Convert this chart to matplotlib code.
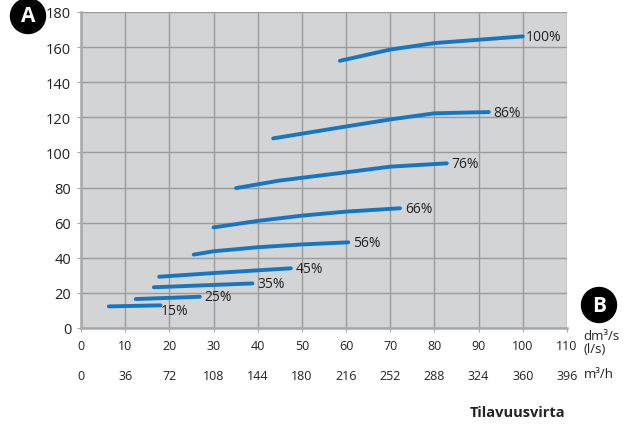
import matplotlib
matplotlib.use("Agg")
import matplotlib.pyplot as plt
from matplotlib.patches import Ellipse

plt.rcParams['font.family'] = ['Open Sans', 'DejaVu Sans']

# fan curves: airflow (dm3/s) vs pressure, per speed setting
speeds = ['15%', '25%', '35%', '45%', '56%', '66%', '76%', '86%', '100%']
flow = {
    '15%': [6.3, 18.0],
    '25%': [12.4, 26.9],
    '35%': [16.5, 38.8],
    '45%': [17.7, 30.0, 47.5],
    '56%': [25.5, 30.0, 40.0, 50.0, 60.5],
    '66%': [30.0, 40.0, 50.0, 60.0, 72.2],
    '76%': [35.1, 45.0, 60.0, 70.0, 82.8],
    '86%': [43.5, 60.0, 70.0, 80.0, 92.3],
    '100%': [58.6, 70.0, 80.0, 100.0],
}
pressure = {
    '15%': [12.3, 12.9],
    '25%': [16.5, 17.8],
    '35%': [23.2, 25.4],
    '45%': [29.2, 31.3, 34.0],
    '56%': [41.8, 43.7, 46.0, 47.6, 48.8],
    '66%': [57.3, 61.0, 64.0, 66.3, 68.2],
    '76%': [79.7, 84.0, 88.7, 91.9, 93.8],
    '86%': [108.0, 114.8, 118.8, 122.3, 123.0],
    '100%': [152.2, 158.6, 162.3, 166.1],
}
x_ticks = list(range(0, 111, 10))
m3h_ticks = list(range(0, 397, 36))
y_ticks = list(range(0, 181, 20))

line_c = '#1577c2'
grid_c = '#9b9b9b'
txt_c = '#222222'

fig = plt.figure(figsize=(6.37, 4.27), dpi=100)
ax = fig.add_axes([81 / 637, 1 - 329 / 427, 486 / 637, 316 / 427])
ax.set_facecolor('#d3d4d6')
ax.set_xlim(0, 110)
ax.set_ylim(0, 180)
ax.set_xticks(x_ticks)
ax.set_yticks(y_ticks)
ax.grid(True, color=grid_c, lw=1.0)
ax.set_axisbelow(True)
for s in ['top', 'right']:
    ax.spines[s].set_visible(False)
for s in ['left', 'bottom']:
    ax.spines[s].set_color('#a8a8a8')
    ax.spines[s].set_linewidth(1.8)
ax.tick_params(axis='y', length=3, color='#a8a8a8', labelsize=10.5, pad=4,
               labelcolor=txt_c)
ax.tick_params(axis='x', length=3, color='#a8a8a8', labelsize=9, pad=5,
               labelcolor=txt_c)

# label offsets in points from the curve end
offsets = {'15%': (0, -4), '100%': (2, 0)}
for sp in speeds:
    ax.plot(flow[sp], pressure[sp], color=line_c, lw=2.8, solid_capstyle='round')
    dx, dy = offsets.get(sp, (3.5, 0))
    ax.annotate(sp, (flow[sp][-1], pressure[sp][-1]), xytext=(dx, dy),
                textcoords='offset points', fontsize=10, va='center', ha='left',
                color=txt_c)

sec = ax.secondary_xaxis(-0.13, functions=(lambda v: v * 3.6, lambda v: v / 3.6))
sec.set_xticks(m3h_ticks)
sec.spines['bottom'].set_visible(False)
sec.tick_params(length=0, labelsize=9, labelcolor=txt_c, pad=0)

fig.text(583 / 637, 1 - 343 / 427, 'dm³/s\n(l/s)', fontsize=9.5, va='center',
         ha='left', color=txt_c, linespacing=0.95)
fig.text(584 / 637, 1 - 375 / 427, 'm³/h', fontsize=9.5, va='center', ha='left',
         color=txt_c)
fig.text(518 / 637, 1 - 413 / 427, 'Tilavuusvirta', fontsize=10.5, weight='bold',
         va='center', ha='center', color=txt_c)

for label, cx, cy in [('A', 28, 17), ('B', 599, 306)]:
    fig.patches.append(Ellipse((cx / 637, 1 - cy / 427), 35 / 637, 35 / 427,
                               transform=fig.transFigure, color='black'))
    fig.text(cx / 637, 1 - cy / 427, label, color='white', fontsize=15,
             weight='bold', ha='center', va='center')

fig.savefig('out.png', dpi=100)
